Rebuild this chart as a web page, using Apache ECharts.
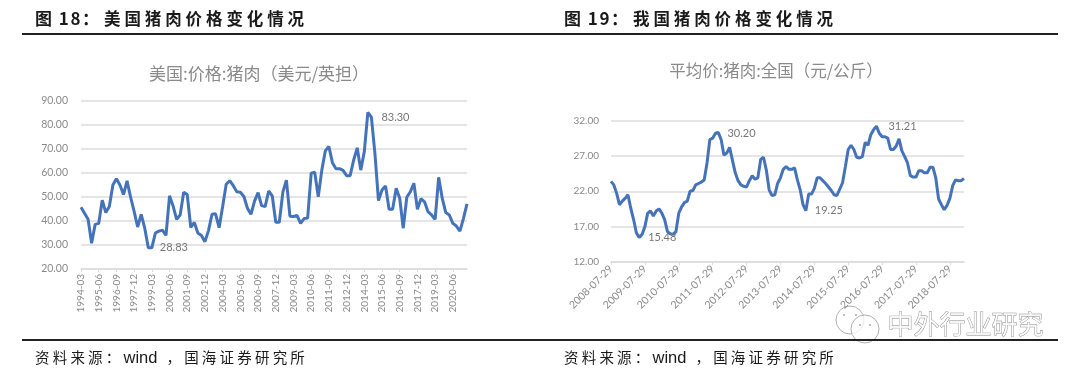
<!DOCTYPE html>
<html>
<head>
<meta charset="utf-8">
<style>
	html,body{margin:0;padding:0;background:#fff;}
	#main{position:absolute;left:0;top:0;width:1080px;height:372px;}
	.rule{position:absolute;left:22px;width:1036px;height:2px;background:#222;}
	.cap{position:absolute;font-family:"Noto Sans CJK SC";color:#1a1a1a;white-space:nowrap;line-height:20px;}
	.head{top:8px;font-size:16.5px;font-weight:700;letter-spacing:3.9px;}
	.head .no{display:inline-block;width:69px;letter-spacing:1.5px;font-size:17px;}
	.src{top:347px;font-size:14.5px;letter-spacing:3.2px;}
	.src .en{font-family:"Liberation Sans";font-size:16.5px;letter-spacing:0;margin-right:9px;}
</style>
</head>
<body>
<div id="main"></div>
<div class="cap head" style="left:35px"><span class="no">图 18：</span>美国猪肉价格变化情况</div>
<div class="cap head" style="left:564px"><span class="no">图 19：</span>我国猪肉价格变化情况</div>
<div class="rule" style="top:33px"></div>
<div class="rule" style="top:339px"></div>
<div class="cap src" style="left:35px">资料来源：<span class="en">wind</span>，国海证券研究所</div>
<div class="cap src" style="left:564px">资料来源：<span class="en">wind</span>，国海证券研究所</div>
<script src="https://cdn.jsdelivr.net/npm/echarts@6/dist/echarts.min.js"></script>
<script>
var usMonths = ['03','06','09','12'];
var usDates = [];
for (var y = 1994; y <= 2021; y++) {
	for (var q = 0; q < 4; q++) {
		if (y == 2021 && q > 1) break;
		usDates.push(y + '-' + usMonths[q]);
	}
}
var usPrice = [
	45.7,43.2,40.7,30.7,38.6,39,48.7,43.5,46,55,
	57.6,55,51,56.7,50,44,37.5,42.8,37,28.9,
	28.83,35,35.8,36.2,34,50.5,46.3,40.7,42.5,52,
	51,37.3,39.4,35,34,31.4,36,42.8,43,37.2,
	46,55.3,56.8,54.7,52.2,52,50.2,45.3,42.8,48.3,
	51.8,46.4,46,52.5,50.5,39.5,39.5,52,57,42,
	41.9,42.3,39,41,41.2,59.9,60.3,50.1,61.2,69.3,
	71,64.3,61.8,61.8,61.1,58.9,58.9,65.4,70.5,61.2,
	68.9,85.3,83.3,68.2,48.5,52.9,54.6,44.9,44.9,53.6,
	49.5,37,49.9,52.2,55.7,44.9,49.3,48,43.9,42.5,
	40.7,58.2,49.5,43.5,42.5,39,37.9,35.8,41.1,47.1
];
var usLabelled = [82,20];

var cnDates = [];
for (var i = 0; i < 126; i++) {
	var m = (6 + i) % 12 + 1;
	cnDates.push((2008 + Math.floor((6 + i) / 12)) + '-' + (m < 10 ? '0' + m : m) + '-29');
}
var cnPrice = [
	23.4,22.9,21.7,20.1,20.6,21,21.5,19.6,18,16.1,
	15.48,15.9,17,18.9,19.2,18.5,19.2,19.5,18.9,18,
	16.3,16,15.9,16.3,18.9,19.8,20.4,20.6,22,22.1,
	22.9,23.1,23.3,23.6,26,29.3,29.5,30.2,30.3,29.3,
	27.1,27.4,28.2,26.4,24.6,23.5,22.9,22.7,22.6,23.5,
	24.2,23.7,23.9,26.5,26.8,25,22.2,21.4,21.5,23.1,
	23.9,25.1,25.5,25.1,25.1,25.3,23.6,22.2,20.1,19.25,
	21.6,21.6,22.4,23.9,23.9,23.5,23.1,22.6,22.1,21.5,
	21.4,22.3,23.2,25.5,27.9,28.5,27.9,26.8,26.7,26.9,
	28.9,28.5,30,30.7,31.21,30.2,29.7,29.7,29.5,27.9,
	27.9,28.4,29.4,27.7,26.9,26,24.2,24,24,24.9,
	24.9,24.6,24.6,25.4,25.4,23.9,20.9,20.1,19.4,20,
	21,22.8,23.6,23.5,23.5,23.8
];
var cnLabelled = [37,10,69,94];

var textGray = '#8a8a8a';
var gridGray = '#dcdcdc';
var lineBlue = '#4573b9';
var numFont = 'Lato';

// label distance per point, the rest of the points stay unlabelled
function seriesData(values, labelled, dist) {
	return values.map(function (v, idx) {
		var at = labelled.indexOf(idx);
		if (at < 0) return v;
		return {
			value: v,
			label: {
				show: true,
				position: 'right',
				distance: dist[at],
				color: '#777',
				fontFamily: numFont,
				fontSize: 11,
				formatter: function (p) { return p.value.toFixed(2); }
			}
		};
	});
}

function xAxis(gridIndex, data, interval, rotate, size) {
	return {
		gridIndex: gridIndex,
		type: 'category',
		boundaryGap: false,
		data: data,
		axisLine: { lineStyle: { color: gridGray, width: 1.5 } },
		axisTick: { show: true, alignWithLabel: true, interval: interval, length: 3, lineStyle: { color: gridGray } },
		axisLabel: { interval: interval, rotate: rotate, margin: 5, color: textGray, fontFamily: numFont, fontSize: size, hideOverlap: false },
		splitLine: { show: false }
	};
}

function yAxis(gridIndex, min, max, interval, margin, size) {
	return {
		gridIndex: gridIndex,
		type: 'value',
		min: min,
		max: max,
		interval: interval,
		axisLine: { show: false },
		axisTick: { show: false },
		axisLabel: {
			margin: margin,
			color: textGray,
			fontFamily: numFont,
			fontSize: size,
			formatter: function (v) { return v.toFixed(2); }
		},
		splitLine: { lineStyle: { color: gridGray, width: 1.5 } }
	};
}

function lineSeries(index, data) {
	return {
		type: 'line',
		xAxisIndex: index,
		yAxisIndex: index,
		data: data,
		symbol: 'circle',
		symbolSize: 0,
		showAllSymbol: true,
		smooth: false,
		lineStyle: { color: lineBlue, width: 3 },
		itemStyle: { color: lineBlue },
		silent: true
	};
}

function bubble(x, y, r) {
	return { type: 'circle', shape: { cx: x, cy: y, r: r }, style: { fill: 'rgba(255,255,255,0.75)', stroke: '#b0b0b0', lineWidth: 1 } };
}

function eye(x, y) {
	return { type: 'circle', shape: { cx: x, cy: y, r: 1 }, style: { fill: '#aaa' } };
}

var myChart = echarts.init(document.getElementById('main'));

var option = {
	animation: false,
	title: [
		{
			text: '美国:价格:猪肉（美元/英担）',
			left: 254,
			top: 60,
			textAlign: 'center',
			textStyle: { color: textGray, fontSize: 17, fontWeight: 'normal', fontFamily: 'Noto Sans CJK SC' }
		},
		{
			text: '平均价:猪肉:全国（元/公斤）',
			left: 771,
			top: 57,
			textAlign: 'center',
			textStyle: { color: textGray, fontSize: 16.5, fontWeight: 'normal', fontFamily: 'Noto Sans CJK SC' }
		}
	],
	grid: [
		{ left: 81, top: 101, width: 386, height: 168 },
		{ left: 611, top: 120.5, width: 353, height: 141.5 }
	],
	xAxis: [xAxis(0, usDates, 4, 90, 10), xAxis(1, cnDates, 11, 45, 10.5)],
	yAxis: [yAxis(0, 20, 90, 10, 13, 10.5), yAxis(1, 12, 32, 5, 12, 10)],
	series: [
		lineSeries(0, seriesData(usPrice, usLabelled, [10, 8])),
		lineSeries(1, seriesData(cnPrice, cnLabelled, [12, 9, 9, 12]))
	],
	graphic: [
		bubble(850, 320, 14),
		bubble(865, 329, 14),
		eye(844, 315),
		eye(856, 315),
		eye(860, 325),
		eye(870, 325),
		{
			type: 'text',
			left: 887,
			top: 311,
			style: {
				text: '中外行业研究',
				fontSize: 26,
				fontFamily: 'Noto Sans CJK SC',
				fill: 'rgba(255,255,255,0.85)',
				stroke: '#8a8a8a',
				lineWidth: 0.8
			}
		}
	]
};

myChart.setOption(option);
</script>
</body>
</html>
